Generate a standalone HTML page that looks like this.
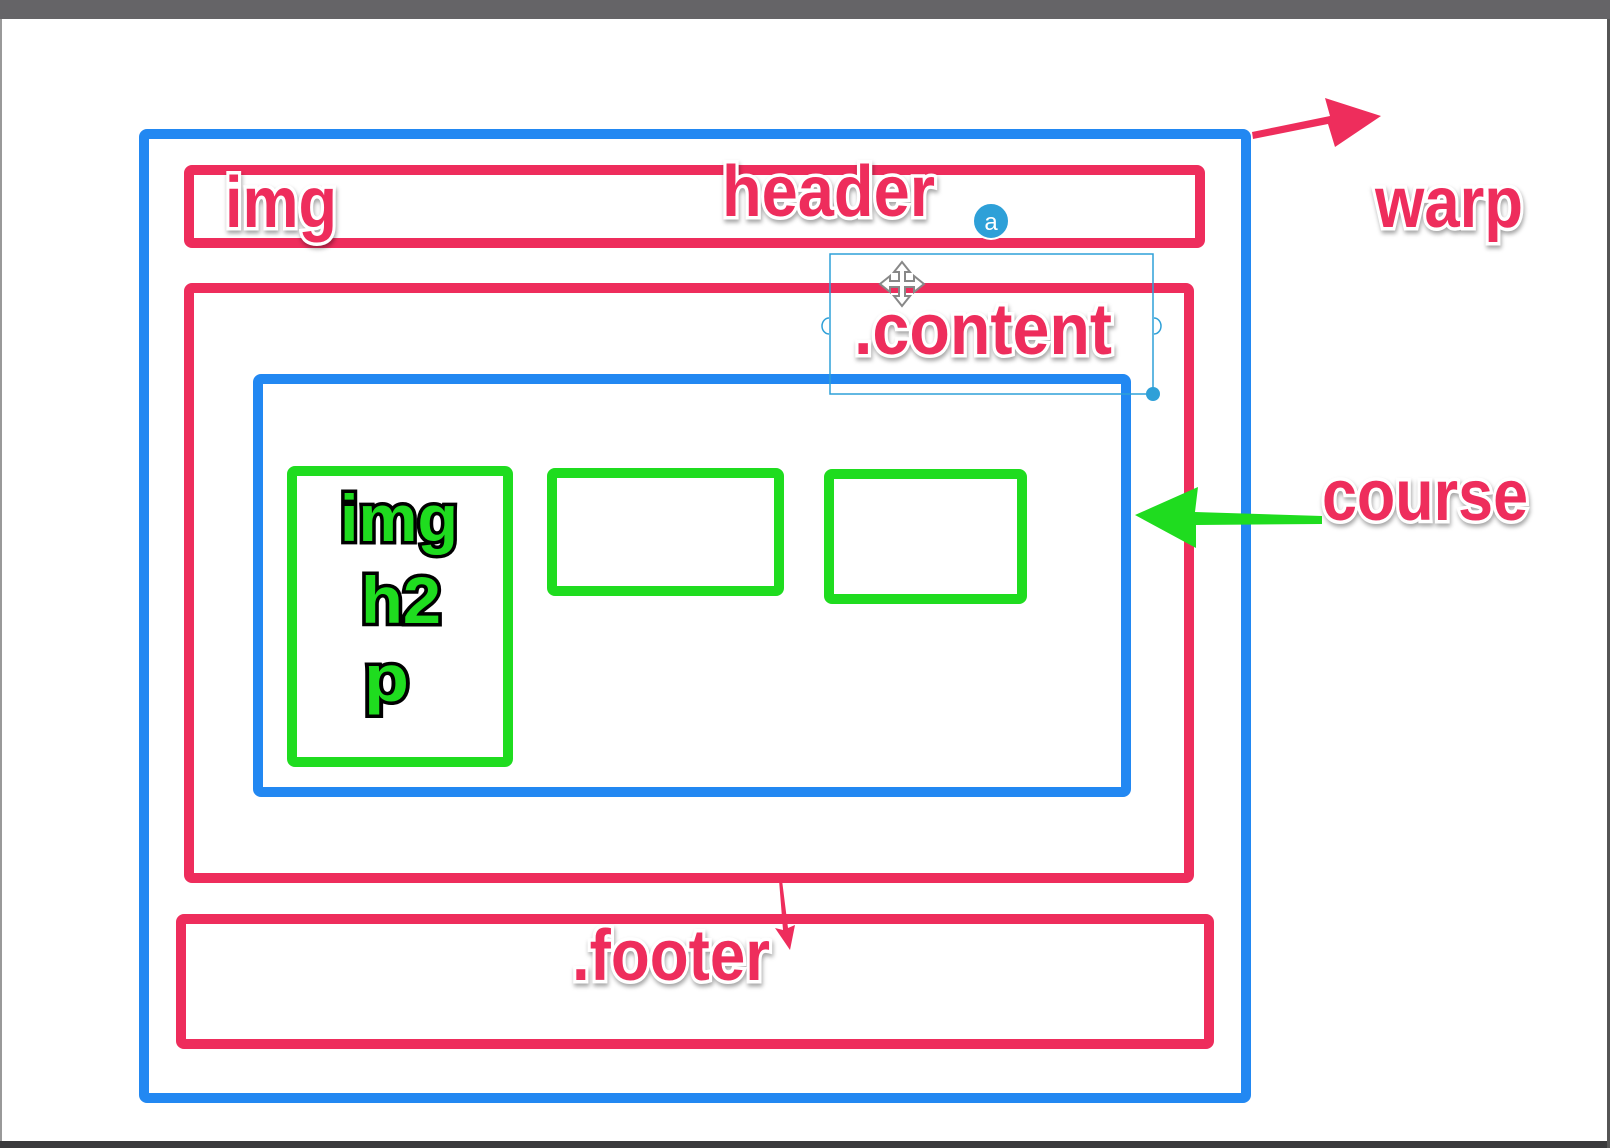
<!DOCTYPE html>
<html><head><meta charset="utf-8"><style>
html,body{margin:0;padding:0;background:#fff;}
svg{display:block;}
.pk{font-family:"Liberation Sans",sans-serif;font-weight:bold;fill:#ee2d5c;stroke:#fff;stroke-width:7;paint-order:stroke;filter:drop-shadow(1px 3px 2px rgba(0,0,0,0.35));}
.gr{font-family:"Liberation Sans",sans-serif;font-weight:bold;fill:#1fdc1f;stroke:#000;stroke-width:7;paint-order:stroke;}
</style></head><body>
<svg width="1610" height="1148" viewBox="0 0 1610 1148" xmlns="http://www.w3.org/2000/svg">
<rect x="0" y="0" width="1610" height="1148" fill="#fff"/>
<rect x="0" y="0" width="1610" height="19" fill="#656467"/>
<rect x="0" y="19" width="2" height="1129" fill="#999"/>
<rect x="0" y="1141" width="1610" height="7" fill="#3a3a3c"/>
<rect x="1607" y="19" width="3" height="1129" fill="#555"/>
<g fill="none" stroke-linejoin="round">
<rect x="144" y="134" width="1102" height="964" stroke="#2288f2" stroke-width="10" rx="3"/>
<rect x="189" y="170" width="1011" height="73" stroke="#ee2d5c" stroke-width="10" rx="3"/>
<rect x="189" y="288" width="1000" height="590" stroke="#ee2d5c" stroke-width="10" rx="3"/>
<rect x="258" y="379" width="868" height="413" stroke="#2288f2" stroke-width="10" rx="3"/>
<rect x="292" y="471" width="216" height="291" stroke="#1fdc1f" stroke-width="10" rx="3"/>
<rect x="552" y="473" width="227" height="118" stroke="#1fdc1f" stroke-width="10" rx="3"/>
<rect x="829" y="474" width="193" height="125" stroke="#1fdc1f" stroke-width="10" rx="3"/>
<rect x="181" y="919" width="1028" height="125" stroke="#ee2d5c" stroke-width="10" rx="3"/>
</g>
<!-- warp arrow -->
<path d="M1253,139 L1328,124 L1335,147 L1381,116 L1325,98 L1330,116 L1252,132 Z" fill="#ee2d5c"/>
<!-- course arrow -->
<path d="M1322,516 L1195,512 L1198,487 L1135,515 L1196,548 L1196,525 L1322,524 Z" fill="#1fdc1f"/>
<!-- small pink arrow -->
<path d="M779,880 L783,930 L775,928 L790,950 L795,925 L788,928 L782,880 Z" fill="#ee2d5c"/>
<!-- selection box -->
<rect x="830" y="254" width="323" height="140" fill="none" stroke="#2ea0d8" stroke-width="1.5"/>
<path d="M829,318 a7,8 0 0 0 0,16" fill="none" stroke="#2ea0d8" stroke-width="1.5"/>
<path d="M1154,318 a7,8 0 0 1 0,16" fill="none" stroke="#2ea0d8" stroke-width="1.5"/>
<circle cx="1153" cy="394" r="7" fill="#2ea0d8"/>
<circle cx="991" cy="221" r="18" fill="#2ea0d8" stroke="#fff" stroke-width="2"/>
<text x="991" y="230" font-family="Liberation Sans,sans-serif" font-size="24" fill="#fff" text-anchor="middle">a</text>
<g transform="translate(902,284)" fill="#fff" stroke="#888" stroke-width="2">
<path d="M0,-22 L8,-12 L3,-12 L3,-3 L12,-3 L12,-8 L22,0 L12,8 L12,3 L3,3 L3,12 L8,12 L0,22 L-8,12 L-3,12 L-3,3 L-12,3 L-12,8 L-22,0 L-12,-8 L-12,-3 L-3,-3 L-3,-12 L-8,-12 Z"/>
</g>
<!-- labels -->
<text class="pk" x="225" y="227" font-size="72" textLength="112" lengthAdjust="spacingAndGlyphs">img</text>
<text class="pk" x="722" y="216" font-size="72" textLength="213" lengthAdjust="spacingAndGlyphs">header</text>
<text class="pk" x="1375" y="227" font-size="72" textLength="148" lengthAdjust="spacingAndGlyphs">warp</text>
<text class="pk" x="854" y="354" font-size="72" textLength="258" lengthAdjust="spacingAndGlyphs">.content</text>
<text class="pk" x="1322" y="520" font-size="72" textLength="206" lengthAdjust="spacingAndGlyphs">course</text>
<text class="pk" x="572" y="980" font-size="72" textLength="198" lengthAdjust="spacingAndGlyphs">.footer</text>
<text class="gr" x="340" y="541" font-size="66" textLength="118" lengthAdjust="spacingAndGlyphs">img</text>
<text class="gr" x="361" y="623" font-size="66" textLength="80" lengthAdjust="spacingAndGlyphs">h2</text>
<text class="gr" x="364" y="701" font-size="66" textLength="45" lengthAdjust="spacingAndGlyphs">p</text>
</svg>
</body></html>
